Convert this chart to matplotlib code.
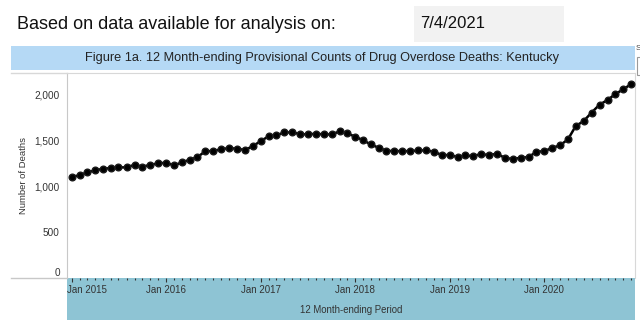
import matplotlib
matplotlib.use("Agg")
import matplotlib.pyplot as plt
import matplotlib.dates as mdates
from matplotlib.patches import Rectangle
from matplotlib.lines import Line2D
from matplotlib.transforms import ScaledTranslation
from matplotlib import font_manager
import pandas as pd

plt.rcParams['font.family'] = ['Liberation Sans', 'DejaVu Sans']

# data
months = pd.date_range('2015-01-01', '2020-12-01', freq='MS')
deaths = [1103, 1118, 1150, 1171, 1190, 1197, 1205, 1205, 1233, 1212, 1233, 1248,
          1256, 1226, 1259, 1288, 1317, 1382, 1382, 1404, 1415, 1408, 1394, 1437,
          1492, 1546, 1553, 1586, 1586, 1568, 1564, 1572, 1564, 1564, 1597, 1575,
          1539, 1499, 1455, 1419, 1386, 1382, 1382, 1382, 1390, 1390, 1375, 1339,
          1339, 1317, 1335, 1328, 1350, 1339, 1353, 1310, 1295, 1310, 1317, 1375,
          1382, 1419, 1444, 1510, 1655, 1710, 1801, 1888, 1939, 2004, 2055, 2113]
year_ticks = pd.to_datetime(['2015-01-01', '2016-01-01', '2017-01-01',
                             '2018-01-01', '2019-01-01', '2020-01-01'])
year_labels = ['Jan 2015', 'Jan 2016', 'Jan 2017', 'Jan 2018', 'Jan 2019', 'Jan 2020']
y_ticks = [0, 500, 1000, 1500, 2000]
y_labels = ['0', '500', '1,000', '1,500', '2,000']

header = 'Based on data available for analysis on:'
run_date = '7/4/2021'
title = 'Figure 1a. 12 Month-ending Provisional Counts of Drug Overdose Deaths: Kentucky'

W, H = 640, 328
def fx(px):
    return px / W
def fy(py):
    return 1 - py / H

fig = plt.figure(figsize=(W / 100, H / 100), dpi=100)

# background boxes (pixel positions from the page layout)
def box(x0, y0, x1, y1, color, **kw):
    fig.add_artist(Rectangle((fx(x0), fy(y1)), fx(x1) - fx(x0), fy(y0) - fy(y1),
                             transform=fig.transFigure, facecolor=color,
                             edgecolor=kw.get('ec', 'none'), lw=kw.get('lw', 0),
                             zorder=-1))

box(414, 6, 564, 41.7, '#f2f2f2')
box(11, 45.7, 635, 70, '#b5d9f5')
box(66.7, 278, 635, 320, '#8ec4d4')
box(637, 57, 650, 75, 'white', ec='#9a9a9a', lw=0.8)

fig.add_artist(Line2D([fx(11), fx(66.7)], [fy(73), fy(73)], color='#d8d8d8', lw=1,
                      transform=fig.transFigure))
fig.add_artist(Line2D([fx(11), fx(66.7)], [fy(278), fy(278)], color='#c8c8c8', lw=1,
                      transform=fig.transFigure))

names = {f.name for f in font_manager.fontManager.ttflist}
if 'Liberation Sans Narrow' in names:
    fig.text(fx(420), fy(24), run_date, fontsize=14, va='center',
             family=['Liberation Sans Narrow', 'DejaVu Sans'], color='#111111')
else:
    fig.text(fx(420), fy(24), run_date, fontsize=12, va='center', color='#111111')

fig.text(fx(16.7), fy(24.5), header, fontsize=13, va='center', color='#111111')
fig.text(fx(322), fy(58.5), title, fontsize=9.2, ha='center', va='center', color='#222222')
fig.text(fx(636), fy(48), 'S', fontsize=6, va='center', color='#444444')
fig.text(fx(351), fy(310), '12 Month-ending Period', fontsize=6.9, ha='center',
         va='center', color='#333333')

ax = fig.add_axes([fx(66.7), fy(278), fx(635) - fx(66.7), fy(73) - fy(278)])
ax.plot(months, deaths, color='black', lw=1.8, marker='o', ms=4.8,
        mec='#1a1a1a', mfc='black', clip_on=False, zorder=3)

ax.set_xlim(pd.Timestamp('2014-12-13'), pd.Timestamp('2020-12-16'))
ax.set_ylim(0, 2233)

ax.set_xticks(year_ticks)
ax.set_xticklabels(year_labels)
ax.xaxis.set_minor_locator(mdates.MonthLocator())
ax.tick_params(axis='x', which='major', direction='out', length=3, width=0.8,
               color='#333333', labelsize=7, labelcolor='#333333', pad=2)
ax.tick_params(axis='x', which='minor', direction='out', length=1.2, width=0.8,
               color='#333333')
first = ax.get_xticklabels()[0]
first.set_ha('left')
first.set_transform(first.get_transform() + ScaledTranslation(-5 / 100, 0, fig.dpi_scale_trans))

ax.set_yticks(y_ticks)
ax.set_yticklabels(y_labels)
ax.tick_params(axis='y', length=0, labelsize=7.2, labelcolor='#333333', pad=5)
zero = ax.get_yticklabels()[0]
zero.set_transform(zero.get_transform() + ScaledTranslation(0, 6 / 100, fig.dpi_scale_trans))

ax.set_ylabel('Number of Deaths', fontsize=6.8, color='#333333')
ax.yaxis.set_label_coords((28 - 66.7) / (635 - 66.7), 0.5)

ax.spines['left'].set_color('#c8c8c8')
ax.spines['top'].set_color('#d8d8d8')
ax.spines['right'].set_color('#d8d8d8')
ax.spines['bottom'].set_visible(False)

fig.savefig('out.png', dpi=100)
